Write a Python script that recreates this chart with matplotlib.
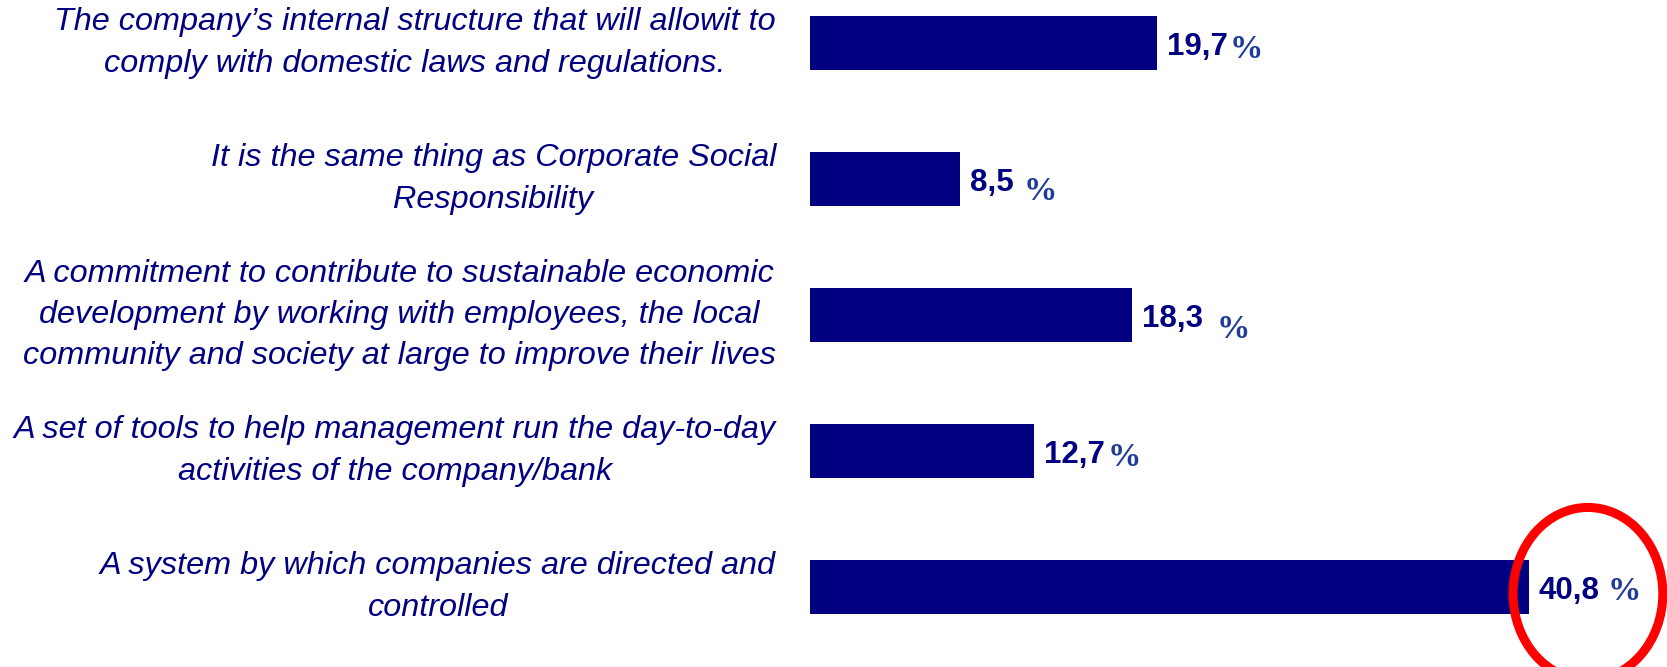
import matplotlib.pyplot as plt
from matplotlib import transforms
from matplotlib.patches import Ellipse

# Odpovedi na otazku "What is corporate governance?"
odpovedi = [
    "The company\u2019s internal structure that will allowit to\ncomply with domestic laws and regulations.",
    "It is the same thing as Corporate Social\nResponsibility",
    "A commitment to contribute to sustainable economic\ndevelopment by working with employees, the local\ncommunity and society at large to improve their lives",
    "A set of tools to help management run the day-to-day\nactivities of the company/bank",
    "A system by which companies are directed and\ncontrolled",
]
podily = [19.7, 8.5, 18.3, 12.7, 40.8]
popisky = ["19,7", "8,5", "18,3", "12,7", "40,8"]
zvyraznit = 4  # odpoved oznacena cervenou elipsou

# posun znaku % za cislem (mezera v px, pokles v px)
pct_mezera = [2, 10, 13, 3, 8]
pct_pokles = [3, 10, 11, 4, 2]

NAVY = "#000080"
PCT_BLUE = "#1f3c98"

fig = plt.figure(figsize=(16.67, 6.67), dpi=100)
ax = fig.add_axes([810 / 1667, 0, 857 / 1667, 1])
ax.set_xlim(0, 857 / 17.62)
ax.set_ylim(4 + 80 / 136, -43 / 136)
ax.axis("off")

y = list(range(len(podily)))
bars = ax.barh(y, podily, height=0.4, color=NAVY)

# popisky kategorii vlevo od grafu
trans = transforms.blended_transform_factory(fig.transFigure, ax.transData)
for i, text in enumerate(odpovedi):
    ax.text(776 / 1667, i, text, transform=trans, ha="right", va="center",
            multialignment="center", fontsize=23.3, style="italic",
            family="Liberation Sans", color=NAVY, linespacing=1.48)

# hodnoty na konci baru
for i, (bar, value, label) in enumerate(zip(bars, podily, popisky)):
    t = ax.annotate(label, xy=(value, i), xytext=(10, -11.5), textcoords="offset pixels",
                    ha="left", va="baseline", fontsize=22.5, fontweight="bold",
                    family="Liberation Sans", color=NAVY)
    fig.canvas.draw()
    bb = t.get_window_extent()
    ax.annotate("%", xy=(bb.x1 + pct_mezera[i], bb.y0), xycoords="figure pixels",
                xytext=(0, -pct_pokles[i]), textcoords="offset pixels",
                ha="left", va="bottom", fontsize=24, fontweight="bold",
                family="Liberation Serif", color=PCT_BLUE)

# cervena elipsa kolem nejcastejsi odpovedi
ax.add_patch(Ellipse((podily[zvyraznit] + 3.35, zvyraznit + 0.05), 8.5, 1.27,
                     fill=False, edgecolor="red", linewidth=6.5, clip_on=False))

fig.savefig("out.png", dpi=100)
